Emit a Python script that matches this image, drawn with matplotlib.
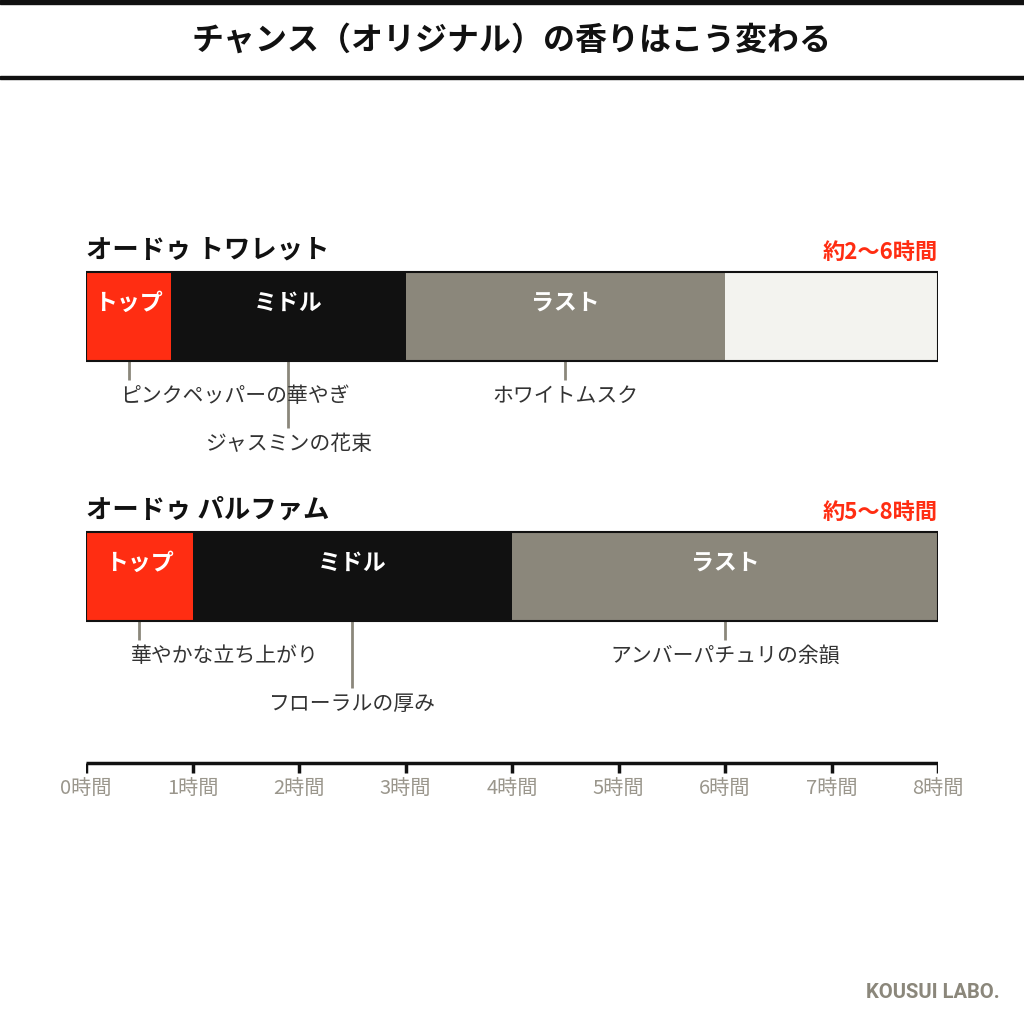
import matplotlib.pyplot as plt
from matplotlib.patches import Rectangle

plt.rcParams['font.family'] = ['Noto Sans CJK JP', 'DejaVu Sans']

title = "チャンス（オリジナル）の香りはこう変わる"
products = ["オードゥ トワレット", "オードゥ パルファム"]
durations = ["約2〜6時間", "約5〜8時間"]
phase_names = ["トップ", "ミドル", "ラスト"]
edt_bounds = [0, 0.8, 3.0, 6.0]
edp_bounds = [0, 1.0, 4.0, 8.0]
edt_notes = ["ピンクペッパーの華やぎ", "ジャスミンの花束", "ホワイトムスク"]
edt_note_x = [0.4, 1.9, 4.5]
edp_notes = ["華やかな立ち上がり", "フローラルの厚み", "アンバーパチュリの余韻"]
edp_note_x = [0.5, 2.5, 6.0]
hours = list(range(9))
hour_labels = [f"{h}時間" for h in hours]
total_hours = 8

RED = "#ff2d12"
BLACK = "#111111"
GREY = "#8b877b"
PALE = "#f3f3ef"
phase_colors = [RED, BLACK, GREY]

fig = plt.figure(figsize=(10.24, 10.24), dpi=100)
# axes: x in hours, y in pixels from top
ax = fig.add_axes([86 / 1024, 0, 852 / 1024, 1])
ax.set_xlim(0, total_hours)
ax.set_ylim(1024, 0)
ax.axis('off')

px = total_hours / 852  # hours per pixel

rows = [
    (products[0], durations[0], edt_bounds, edt_notes, edt_note_x, 272),
    (products[1], durations[1], edp_bounds, edp_notes, edp_note_x, 532),
]
bar_h = 89

for name, dur, bounds, notes, note_x, top in rows:
    yc = top + bar_h / 2
    ax.text(0, top - 22, name, fontsize=19, fontweight='bold', color=BLACK,
            ha='left', va='center')
    ax.text(total_hours, top - 20, dur, fontsize=16, fontweight='bold', color=RED,
            ha='right', va='center')
    if bounds[-1] < total_hours:
        ax.barh(yc, total_hours - bounds[-1], left=bounds[-1], height=bar_h,
                color=PALE, linewidth=0)
    for i in range(3):
        w = bounds[i + 1] - bounds[i]
        ax.barh(yc, w, left=bounds[i], height=bar_h, color=phase_colors[i], linewidth=0)
        ax.text(bounds[i] + w / 2, top + 31, phase_names[i], fontsize=16.5,
                fontweight='bold', color='white', ha='center', va='center')
    ax.add_patch(Rectangle((0, top), total_hours, bar_h, fill=False,
                           edgecolor=BLACK, linewidth=1.5, zorder=5))
    for j, (label, x) in enumerate(zip(notes, note_x)):
        long = (j == 1)
        y_end = top + bar_h + (67 if long else 19)
        ax.plot([x, x], [top + bar_h, y_end], color=GREY, linewidth=2,
                solid_capstyle='butt')
        ty = y_end + 16
        if j == 0:
            ax.text(x - 8 * px, ty, label, fontsize=15, color='#333333',
                    ha='left', va='center')
        else:
            ax.text(x, ty, label, fontsize=15, color='#333333',
                    ha='center', va='center')

# time axis
axis_y = 763
ax.plot([0, total_hours], [axis_y, axis_y], color=BLACK, linewidth=2.5,
        solid_capstyle='butt')
for h, lab in zip(hours, hour_labels):
    ax.plot([h, h], [axis_y, axis_y + 10], color=BLACK, linewidth=2.5,
            solid_capstyle='butt')
    ax.text(h, axis_y + 25, lab, fontsize=14.5, color='#9a968c',
            ha='center', va='center')

# header
fig.patches.append(Rectangle((0, 1 - 4 / 1024), 1, 4 / 1024, transform=fig.transFigure,
                             color=BLACK, zorder=0))
fig.patches.append(Rectangle((0, 1 - 79 / 1024), 1, 3 / 1024, transform=fig.transFigure,
                             color=BLACK, zorder=0))
fig.text(0.5, 1 - 41 / 1024, title, fontsize=23, fontweight='bold', color=BLACK,
         ha='center', va='center')
fig.text(1000 / 1024, 1 - 993 / 1024, "KOUSUI LABO.", fontsize=14.5, fontweight='bold',
         color=GREY, ha='right', va='center', family=['Roboto', 'DejaVu Sans'])

fig.savefig('out.png', dpi=100, facecolor='white')
